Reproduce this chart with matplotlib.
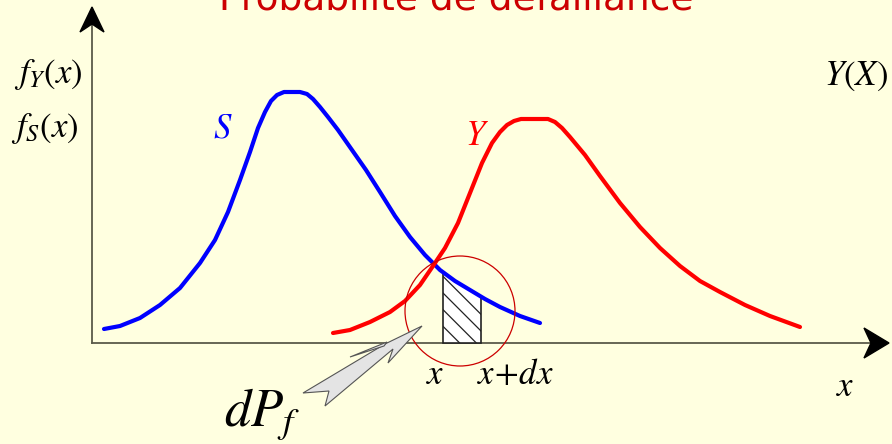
import matplotlib
matplotlib.use("Agg")
import matplotlib.pyplot as plt
import numpy as np
from matplotlib.patches import Polygon, Circle

plt.rcParams['mathtext.fontset'] = 'stix'
plt.rcParams['hatch.linewidth'] = 0.9

# curves (pixel coords, y downwards)
s_x = [104, 120, 140, 160, 180, 200, 215, 228, 240, 250, 258, 265, 271, 277, 284, 300, 307, 313, 320, 328, 338, 352, 366, 380, 395, 410, 425, 440, 455, 470, 485, 500, 520, 540]
s_y = [329, 326, 318, 305, 288, 263, 240, 212, 180, 152, 128, 112, 101, 95, 92, 92, 94, 99, 107, 117, 130, 150, 170, 192, 216, 237, 255, 270, 281, 290, 299, 307, 316, 323]
y_x = [333, 350, 370, 390, 405, 420, 433, 445, 458, 470, 482, 492, 500, 507, 514, 521, 548, 555, 562, 570, 585, 600, 620, 640, 660, 680, 700, 720, 745, 770, 800]
y_y = [333, 330, 322, 312, 301, 285, 266, 248, 223, 193, 163, 143, 132, 125, 121, 119, 119, 122, 128, 137, 155, 176, 203, 227, 248, 266, 281, 292, 305, 316, 327]

strip_x0, strip_x1 = 443, 481
circle_center = (460, 311)
circle_r = 55

pointer = [(422, 326), (388, 363), (393, 349), (325, 406), (329, 391), (303, 393), (385, 344)]
pointer_sliver = [(350, 357), (387, 342), (384, 346)]

W, H = 892, 444
bg = '#FFFFE0'
fig = plt.figure(figsize=(W / 100, H / 100), dpi=100, facecolor=bg)
ax = fig.add_axes([0, 0, 1, 1])
ax.set_xlim(0, W)
ax.set_ylim(H, 0)
ax.axis('off')
ax.set_facecolor(bg)

ox, oy = 92, 343
axis_col = '#5a5a4a'
ax.plot([ox, 872], [oy, oy], color=axis_col, lw=1.3, zorder=2)
ax.plot([ox, ox], [oy, 22], color=axis_col, lw=1.3, zorder=2)
# arrow heads
ax.add_patch(Polygon([(889, oy), (864, 328), (871, oy), (864, 358)], closed=True, color='black', zorder=3))
ax.add_patch(Polygon([(92, 7), (80, 32), (92, 24), (104, 32)], closed=True, color='black', zorder=3))

# hatched strip under S
xs = np.linspace(strip_x0, strip_x1, 20)
top = np.interp(xs, s_x, s_y)
strip = [(strip_x0, oy)] + list(zip(xs, top)) + [(strip_x1, oy)]
ax.add_patch(Polygon(strip, closed=True, facecolor='white', edgecolor='#222222',
                     hatch='\\\\', lw=1.2, zorder=3))

ax.plot(s_x, s_y, color='#0000FF', lw=3, solid_capstyle='round', solid_joinstyle='round', zorder=4)
ax.plot(y_x, y_y, color='#FF0000', lw=3, solid_capstyle='round', solid_joinstyle='round', zorder=4)

ax.add_patch(Circle(circle_center, circle_r, fill=False, edgecolor='#CC0000', lw=0.9, zorder=5))

ax.add_patch(Polygon(pointer, closed=True, facecolor='#e4e4e4', edgecolor='#555555', lw=0.8, zorder=6))
ax.add_patch(Polygon(pointer_sliver, closed=True, facecolor='#e4e4e4', edgecolor='#555555', lw=0.8, zorder=6))

ax.text(456, 10, 'Probabilité de défaillance', color='#CC0000', fontsize=27,
        ha='center', va='baseline', family='DejaVu Sans')

fs = 25
ax.text(48, 83, r'$f_Y(x)$', fontsize=fs, ha='center', va='baseline')
ax.text(45, 137, r'$f_S(x)$', fontsize=fs, ha='center', va='baseline')
ax.text(856, 85, r'$Y(X)$', fontsize=fs, ha='center', va='baseline')
ax.text(223, 137, r'$S$', fontsize=fs, ha='center', va='baseline', color='#0000FF')
ax.text(477, 145, r'$Y$', fontsize=fs, ha='center', va='baseline', color='#FF0000')
ax.text(435, 384, r'$x$', fontsize=fs, ha='center', va='baseline')
ax.text(515, 384, r'$x\!+\!dx$', fontsize=fs, ha='center', va='baseline')
ax.text(845, 396, r'$x$', fontsize=fs, ha='center', va='baseline')
ax.text(262, 426, r'$dP_f$', fontsize=38, ha='center', va='baseline')

fig.savefig('out.png', dpi=100, facecolor=bg)
